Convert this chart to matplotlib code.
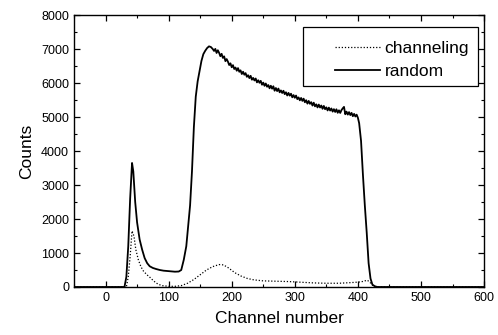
import matplotlib
matplotlib.use("Agg")
import matplotlib.pyplot as plt
from matplotlib.ticker import MultipleLocator
from matplotlib.patches import Rectangle

plt.rcParams['font.family'] = ['Liberation Sans', 'DejaVu Sans']

# Random spectrum: channel numbers and counts
rand_ch = [-50, 30, 33, 36, 39, 42, 44, 47, 50, 54, 58, 62, 66, 70, 75, 80, 86, 92, 98, 104, 110, 116,
           120, 124, 128, 131, 134, 137, 140, 143, 146, 149, 152, 155, 158, 161, 164, 167,
           170, 172, 174, 176, 178, 180, 182, 184, 186, 188, 190, 192, 194, 196, 198,
           200, 202, 204, 206, 208, 210, 212, 214, 216, 218, 220, 222, 224, 226, 228, 230, 232, 234, 236, 238,
           240, 242, 244, 246, 248, 250, 252, 254, 256, 258, 260, 262, 264, 266, 268, 270, 272, 274, 276, 278,
           280, 282, 284, 286, 288, 290, 292, 294, 296, 298, 300, 302, 304, 306, 308, 310, 312, 314, 316, 318,
           320, 322, 324, 326, 328, 330, 332, 334, 336, 338, 340, 342, 344, 346, 348, 350, 352, 354, 356, 358,
           360, 362, 364, 366, 368, 370, 372, 374, 376, 378, 380, 382, 384, 386, 388, 390, 392, 394, 396, 398,
           400, 402, 405, 408, 411, 414, 417, 420, 423, 427, 431, 600]
rand_counts = [0, 0, 300, 1200, 2600, 3650, 3400, 2500, 1900, 1400, 1100, 850, 700, 610, 560, 530, 500, 480, 470, 460, 450, 455,
               500, 800, 1200, 1800, 2400, 3400, 4700, 5600, 6050, 6350, 6650, 6850, 6950, 7030, 7080, 7060,
               7000, 6945, 7005, 6885, 6965, 6890, 6790, 6860, 6740, 6785, 6645, 6705, 6630, 6530, 6580,
               6465, 6527, 6414, 6456, 6363, 6440, 6332, 6374, 6266, 6333, 6245, 6292, 6184, 6230, 6146, 6213, 6099, 6151, 6077, 6134,
               6020, 6082, 6008, 6065, 5951, 6013, 5919, 5987, 5892, 5941, 5846, 5921, 5835, 5905, 5775, 5854, 5764, 5838, 5728, 5783,
               5708, 5773, 5674, 5729, 5634, 5710, 5630, 5686, 5581, 5646, 5567, 5632, 5527, 5577, 5492, 5561, 5476, 5541, 5435, 5495,
               5395, 5474, 5389, 5438, 5338, 5423, 5315, 5374, 5283, 5367, 5281, 5339, 5243, 5327, 5231, 5285, 5194, 5277, 5191, 5252,
               5160, 5232, 5150, 5228, 5125, 5198, 5121, 5204, 5256, 5299, 5082, 5159, 5072, 5145, 5058, 5122, 5025, 5093, 5016, 5070,
               4980, 4820, 4300, 3300, 2400, 1600, 700, 250, 70, 20, 0, 0]

# Channeling spectrum: channel numbers and counts
chan_ch = [-50, 33, 36, 39, 42, 45, 48, 52, 56, 60, 65, 70, 75, 80, 85, 90, 100, 110, 120, 130, 140, 150,
           160, 170, 180, 187, 195, 205, 215, 225, 235, 250, 270, 290, 310, 330, 350, 370, 390, 405, 415,
           420, 425, 432, 600]
chan_counts = [0, 0, 300, 900, 1650, 1500, 1100, 800, 600, 470, 370, 290, 200, 120, 70, 40, 20, 20, 40, 110, 220, 360,
               500, 600, 660, 650, 560, 420, 320, 250, 210, 180, 170, 160, 140, 120, 110, 110, 130, 150, 200,
               120, 20, 0, 0]

series_labels = ['channeling', 'random']

fig = plt.figure(figsize=(4.98, 3.35), dpi=100)
ax = fig.add_axes([0.1486, 0.1433, 0.8234, 0.8117])

ax.plot(chan_ch, chan_counts, color='black', linestyle=(0, (1, 1.5)), linewidth=0.9, label=series_labels[0])
ax.plot(rand_ch, rand_counts, color='black', linestyle='-', linewidth=1.3, label=series_labels[1])

ax.set_xlim(-50, 600)
ax.set_ylim(0, 8000)
ax.xaxis.set_major_locator(MultipleLocator(100))
ax.xaxis.set_minor_locator(MultipleLocator(50))
ax.yaxis.set_major_locator(MultipleLocator(1000))
ax.yaxis.set_minor_locator(MultipleLocator(500))
ax.tick_params(which='both', direction='in', top=True, right=True, labelsize=9)
ax.tick_params(which='major', length=4, width=0.9)
ax.tick_params(which='minor', length=2.5, width=0.8)
for s in ax.spines.values():
    s.set_linewidth(1.0)

ax.set_xlabel('Channel number', fontsize=12.5, labelpad=5)
ax.set_ylabel('Counts', fontsize=12.5, labelpad=5)

# Legend frame
ax.add_patch(Rectangle((0.5585, 0.739), 0.4269, 0.217, transform=ax.transAxes,
                       fill=True, facecolor='white', edgecolor='black', linewidth=0.9, zorder=4))
leg = ax.legend(loc='center right', fontsize=12.5, frameon=False,
                handlelength=2.6, handletextpad=0.25, borderpad=0, borderaxespad=0,
                labelspacing=0.5, bbox_to_anchor=(0.963, 0.835))
leg.set_zorder(5)

fig.savefig('out.png', dpi=100)
